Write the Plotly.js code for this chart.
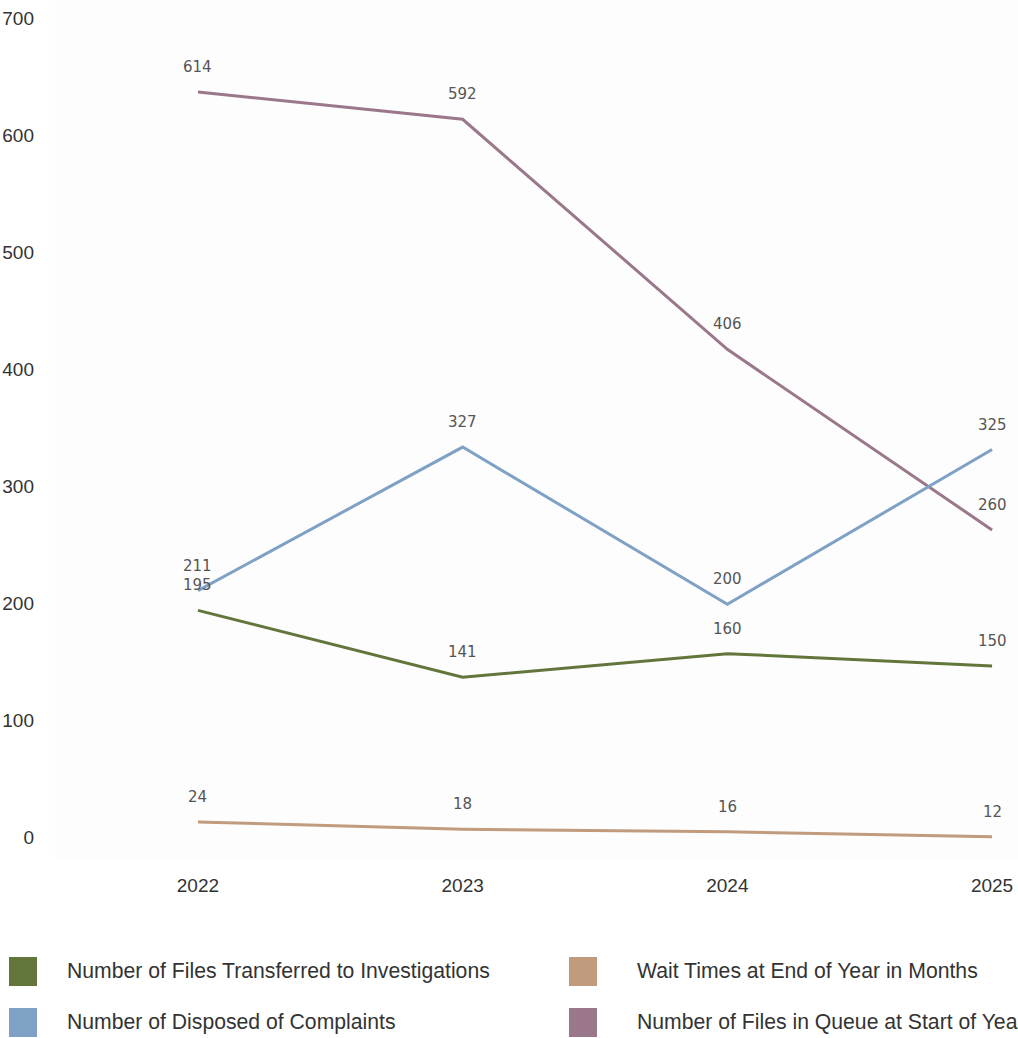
<!DOCTYPE html>
<html>
<head>
<meta charset="utf-8">
<script src="https://cdn.plot.ly/plotly-3.0.1.min.js"></script>
<style>
  html, body { margin: 0; padding: 0; background: #ffffff; }
  #chart { width: 1018px; height: 1038px; }
</style>
</head>
<body>
<div id="chart"></div>
<script>
// Yearly series
const years = [2022, 2023, 2024, 2025];
const transferredToInvestigations = [195, 141, 160, 150];
const disposedComplaints = [211, 327, 200, 325];
const waitTimeMonths = [24, 18, 16, 12];
const queueAtStartOfYear = [614, 592, 406, 260];

// Axis tick labels
const yTickLabels = [0, 100, 200, 300, 400, 500, 600, 700];

const seriesNames = [
  'Number of Files Transferred to Investigations',
  'Wait Times at End of Year in Months',
  'Number of Disposed of Complaints',
  'Number of Files in Queue at Start of Yea'
];

// Page geometry (pixels)
const W = 1018, H = 1038;
const plotLeft = 55, plotBottom = 860;
const plotW = W - plotLeft, plotH = plotBottom;
const px2paperX = p => (p - plotLeft) / plotW;
const px2paperY = p => (plotBottom - p) / plotH;

// The printed value scale runs slightly compressed against the plotted lines:
// a label t sits at line-value (tickOffset + tickStep * t).
const tickOffset = 11.72, tickStep = 0.9458;
const yTickPositions = yTickLabels.map(t => tickOffset + tickStep * t);

const colors = {
  transferred: '#62763c',
  wait: '#c09b7d',
  disposed: '#7ea1c5',
  queue: '#9b778b'
};

const series = [
  { name: seriesNames[3], y: queueAtStartOfYear, color: colors.queue },
  { name: seriesNames[2], y: disposedComplaints, color: colors.disposed },
  { name: seriesNames[0], y: transferredToInvestigations, color: colors.transferred },
  { name: seriesNames[1], y: waitTimeMonths, color: colors.wait }
];

const traces = series.map(s => ({
  type: 'scatter',
  mode: 'lines',
  x: years,
  y: s.y,
  name: s.name,
  showlegend: false,
  hoverinfo: 'x+y+name',
  line: { color: s.color, width: 3 }
}));

// Value labels above each point
const valueLabels = [];
series.forEach(s => {
  s.y.forEach((v, i) => {
    valueLabels.push({
      x: years[i], y: v, xref: 'x', yref: 'y',
      text: String(v), showarrow: false,
      yshift: 25,
      font: { family: 'DejaVu Sans', size: 15, color: '#555555' }
    });
  });
});

// Legend drawn as swatches and text in two columns
const legendItems = [
  { name: seriesNames[0], color: colors.transferred, x: 9,   y: 957,  tx: 65 },
  { name: seriesNames[1], color: colors.wait,        x: 569, y: 957,  tx: 635 },
  { name: seriesNames[2], color: colors.disposed,    x: 9,   y: 1008, tx: 65 },
  { name: seriesNames[3], color: colors.queue,       x: 569, y: 1008, tx: 635 }
];
const legendShapes = legendItems.map(it => ({
  type: 'rect', xref: 'paper', yref: 'paper',
  x0: px2paperX(it.x), x1: px2paperX(it.x + 28),
  y0: px2paperY(it.y + 29), y1: px2paperY(it.y),
  fillcolor: it.color, line: { width: 0 }, layer: 'above'
}));
const legendTexts = legendItems.map(it => ({
  xref: 'paper', yref: 'paper',
  x: px2paperX(it.tx), y: px2paperY(it.y + 14),
  xanchor: 'left', yanchor: 'middle',
  text: it.name, showarrow: false,
  font: { family: 'Liberation Sans, Arial, sans-serif', size: 21.2, color: '#333333' }
}));

const axisFont = { family: 'Liberation Sans, Arial, sans-serif', size: 19, color: '#333333' };

const layout = {
  width: W, height: H,
  margin: { l: plotLeft, r: 0, t: 0, b: H - plotBottom, pad: 0 },
  paper_bgcolor: '#ffffff',
  plot_bgcolor: '#fdfdfd',
  showlegend: false,
  xaxis: {
    range: [2021.46, 2025.098],
    tickvals: years,
    ticktext: years.map(String),
    showgrid: false, zeroline: false, showline: false,
    ticks: '', ticklabelstandoff: 12,
    tickfont: axisFont
  },
  yaxis: {
    range: [-6.8, 688.4],
    tickvals: yTickPositions,
    ticktext: yTickLabels.map(String),
    showgrid: false, zeroline: false, showline: false,
    ticks: '', ticklabelstandoff: 20,
    tickfont: axisFont
  },
  shapes: legendShapes,
  annotations: valueLabels.concat(legendTexts)
};

Plotly.newPlot('chart', traces, layout, { displayModeBar: false, staticPlot: true });
</script>
</body>
</html>
